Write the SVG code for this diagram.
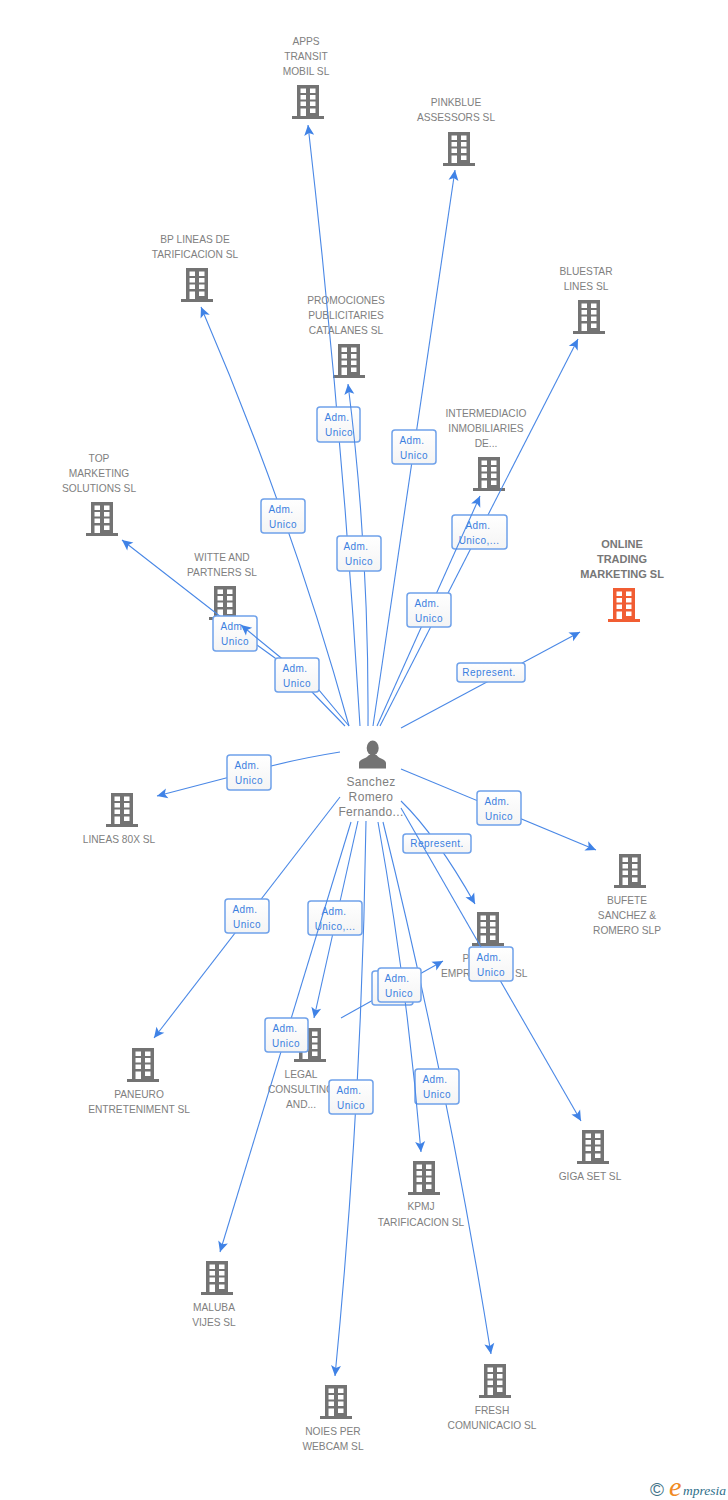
<svg xmlns="http://www.w3.org/2000/svg" width="728" height="1500" viewBox="0 0 728 1500">
<style>
.n{font:10.2px "Liberation Sans",Arial,sans-serif;fill:#808080;text-anchor:middle}
.t{font:bold 11px "Liberation Sans",Arial,sans-serif;fill:#777;text-anchor:middle}
.p{font:12px "Liberation Sans",Arial,sans-serif;fill:#808080;text-anchor:middle;letter-spacing:.35px}
.e{fill:none;stroke:#4a88e6;stroke-width:1.1;marker-end:url(#a)}
.b{fill:url(#g);stroke:#6fa1ea;stroke-width:1.5}
.l{font:10px "Liberation Sans",Arial,sans-serif;fill:#3b7fe0;text-anchor:middle;letter-spacing:.45px}
</style>
<defs>
<linearGradient id="g" x1="0" y1="0" x2="0" y2="1"><stop offset="0" stop-color="#fff"/><stop offset="1" stop-color="#f4f4f4"/></linearGradient>
<marker id="a" markerUnits="userSpaceOnUse" markerWidth="14" markerHeight="14" viewBox="-12 -7 14 14" refX="0" refY="0" orient="auto"><path d="M0,0L-10.5,-5L-8,0L-10.5,5Z" fill="#3f82e6"/></marker>
<path id="bd" fill-rule="evenodd" d="M-11,0H11V31H16V34H-16V31H-11ZM-7.5,3.5V8H-2V3.5ZM2,3.5V8H7.5V3.5ZM-7.5,10V14.5H-2V10ZM2,10V14.5H7.5V10ZM-7.5,16.5V21H-2V16.5ZM2,16.5V21H7.5V16.5ZM-7.5,23.5V31H-2V23.5ZM2,23.5V28H7.5V23.5Z"/>
</defs>
<rect width="728" height="1500" fill="#fff"/>
<g id="nodes" fill="#737373">
<g id="n-apps"><use href="#bd" x="308" y="85"/><text class="n"><tspan x="306" y="45">APPS</tspan><tspan x="306" y="60">TRANSIT</tspan><tspan x="306" y="75">MOBIL SL</tspan></text></g>
<g id="n-pinkblue"><use href="#bd" x="459" y="132"/><text class="n"><tspan x="456" y="106">PINKBLUE</tspan><tspan x="456" y="121">ASSESSORS SL</tspan></text></g>
<g id="n-bp"><use href="#bd" x="197" y="268"/><text class="n"><tspan x="195" y="243">BP LINEAS DE</tspan><tspan x="195" y="258">TARIFICACION SL</tspan></text></g>
<g id="n-promociones"><use href="#bd" x="349" y="344"/><text class="n"><tspan x="346" y="304">PROMOCIONES</tspan><tspan x="346" y="319">PUBLICITARIES</tspan><tspan x="346" y="334">CATALANES SL</tspan></text></g>
<g id="n-bluestar"><use href="#bd" x="589" y="300"/><text class="n"><tspan x="586" y="275">BLUESTAR</tspan><tspan x="586" y="290">LINES SL</tspan></text></g>
<g id="n-intermediacio"><use href="#bd" x="489" y="457"/><text class="n"><tspan x="486" y="417">INTERMEDIACIO</tspan><tspan x="486" y="432">INMOBILIARIES</tspan><tspan x="486" y="447">DE...</tspan></text></g>
<g id="n-top"><use href="#bd" x="102" y="502"/><text class="n"><tspan x="99" y="462">TOP</tspan><tspan x="99" y="477">MARKETING</tspan><tspan x="99" y="492">SOLUTIONS SL</tspan></text></g>
<g id="n-witte"><use href="#bd" x="225" y="586"/><text class="n"><tspan x="222" y="561">WITTE AND</tspan><tspan x="222" y="576">PARTNERS SL</tspan></text></g>
<g id="n-online"><use href="#bd" x="624" y="588" fill="#f15d33"/><text class="t"><tspan x="622" y="548">ONLINE</tspan><tspan x="622" y="563">TRADING</tspan><tspan x="622" y="578">MARKETING SL</tspan></text></g>
<g id="n-lineas"><use href="#bd" x="122" y="793"/><text class="n" x="119" y="843">LINEAS 80X SL</text></g>
<g id="n-bufete"><use href="#bd" x="630" y="854"/><text class="n"><tspan x="627" y="904">BUFETE</tspan><tspan x="627" y="919">SANCHEZ &amp;</tspan><tspan x="627" y="934">ROMERO SLP</tspan></text></g>
<g id="n-paneuro"><use href="#bd" x="143" y="1048"/><text class="n"><tspan x="139" y="1098">PANEURO</tspan><tspan x="139" y="1113">ENTRETENIMENT SL</tspan></text></g>
<g id="n-giga"><use href="#bd" x="593" y="1130"/><text class="n" x="590" y="1180">GIGA SET SL</text></g>
<g id="n-kpmj"><use href="#bd" x="424" y="1161"/><text class="n"><tspan x="421" y="1210">KPMJ</tspan><tspan x="421" y="1226">TARIFICACION SL</tspan></text></g>
<g id="n-maluba"><use href="#bd" x="217" y="1261"/><text class="n"><tspan x="214" y="1311">MALUBA</tspan><tspan x="214" y="1326">VIJES SL</tspan></text></g>
<g id="n-noies"><use href="#bd" x="336" y="1385"/><text class="n"><tspan x="333" y="1435">NOIES PER</tspan><tspan x="333" y="1450">WEBCAM SL</tspan></text></g>
<g id="n-fresh"><use href="#bd" x="495" y="1364"/><text class="n"><tspan x="492" y="1414">FRESH</tspan><tspan x="492" y="1429">COMUNICACIO SL</tspan></text></g>
<g id="n-legal"><use href="#bd" x="310" y="1028"/><text class="n"><tspan x="301" y="1078">LEGAL</tspan><tspan x="301" y="1093">CONSULTING</tspan><tspan x="301" y="1108">AND...</tspan></text></g>
<g id="n-empr"><use href="#bd" x="488" y="912"/><text class="n" x="466" y="962">P</text><text class="n" style="text-anchor:start" y="977"><tspan x="441">EMPR</tspan><tspan x="515">SL</tspan></text></g>
<g id="n-person"><ellipse cx="372.7" cy="748" rx="6" ry="7.5"/><path d="M359,768.5V763C359,759 366,759 369,755H376.5C379,759 386,759 386,763V768.5Z"/><text class="p"><tspan x="371" y="786">Sanchez</tspan><tspan x="371" y="801">Romero</tspan><tspan x="371" y="816">Fernando...</tspan></text></g>
</g>
<g id="connectors">
<path class="e" d="M360,726Q342,422 308,125"/><rect class="b" x="317" y="407" width="43" height="35" rx="3"/><text class="l"><tspan x="337" y="421">Adm.</tspan><tspan x="339" y="436">Unico</tspan></text>
<path class="e" d="M368,726Q369,550 348,384"/><rect class="b" x="337" y="536" width="44" height="35" rx="3"/><text class="l"><tspan x="356" y="550">Adm.</tspan><tspan x="359" y="565">Unico</tspan></text>
<path class="e" d="M349,726Q291,516 201,307"/><rect class="b" x="261" y="499" width="44" height="34" rx="3"/><text class="l"><tspan x="281" y="513">Adm.</tspan><tspan x="283" y="528">Unico</tspan></text>
<path class="e" d="M373,726L455,170"/><rect class="b" x="392" y="430" width="44" height="34" rx="3"/><text class="l"><tspan x="412" y="444">Adm.</tspan><tspan x="414" y="459">Unico</tspan></text>
<path class="e" d="M380,726L578,339"/><rect class="b" x="452" y="515" width="55" height="34" rx="3"/><text class="l"><tspan x="478" y="529">Adm.</tspan><tspan x="479" y="544">Unico,...</tspan></text>
<path class="e" d="M377,726L480,496"/><rect class="b" x="407" y="593" width="44" height="34" rx="3"/><text class="l"><tspan x="427" y="607">Adm.</tspan><tspan x="429" y="622">Unico</tspan></text>
<path class="e" d="M401,728L580,632"/><rect class="b" x="457" y="663" width="68" height="19" rx="3"/><text class="l" x="489" y="676">Represent.</text>
<path class="e" d="M345,726L312,692L275,658L257,645L122,540"/><rect class="b" x="213" y="616" width="44" height="35" rx="3"/><text class="l"><tspan x="233" y="630">Adm.</tspan><tspan x="235" y="645">Unico</tspan></text>
<path class="e" d="M349,726L318,689L280,657L241,625"/><rect class="b" x="275" y="658" width="44" height="34" rx="3"/><text class="l"><tspan x="295" y="672">Adm.</tspan><tspan x="297" y="687">Unico</tspan></text>
<path class="e" d="M340,752Q290,760 249,772L157,796"/><rect class="b" x="227" y="755" width="44" height="35" rx="3"/><text class="l"><tspan x="247" y="769">Adm.</tspan><tspan x="249" y="784">Unico</tspan></text>
<path class="e" d="M401,769L596,850"/><rect class="b" x="477" y="791" width="44" height="34" rx="3"/><text class="l"><tspan x="497" y="805">Adm.</tspan><tspan x="499" y="820">Unico</tspan></text>
<path class="e" d="M401,801Q436,835 475,904"/><rect class="b" x="403" y="834" width="68" height="19" rx="3"/><text class="l" x="437" y="847">Represent.</text>
<path class="e" d="M340,797L154,1038"/><rect class="b" x="225" y="899" width="44" height="34" rx="3"/><text class="l"><tspan x="245" y="913">Adm.</tspan><tspan x="247" y="928">Unico</tspan></text>
<path class="e" d="M358,821L314,1018"/><rect class="b" x="308" y="901" width="54" height="34" rx="3"/><text class="l"><tspan x="334" y="915">Adm.</tspan><tspan x="335" y="930">Unico,...</tspan></text>
<path class="e" d="M401,808L581,1121"/><rect class="b" x="469" y="947" width="44" height="34" rx="3"/><text class="l"><tspan x="489" y="961">Adm.</tspan><tspan x="491" y="976">Unico</tspan></text>
<path class="e" d="M351,822L220,1252"/><rect class="b" x="265" y="1018" width="43" height="34" rx="3"/><text class="l"><tspan x="285" y="1032">Adm.</tspan><tspan x="286" y="1047">Unico</tspan></text>
<path class="e" d="M366,821Q362,1100 335,1376"/><rect class="b" x="329" y="1080" width="44" height="34" rx="3"/><text class="l"><tspan x="349" y="1094">Adm.</tspan><tspan x="351" y="1109">Unico</tspan></text>
<path class="e" d="M383,822Q447,1080 491,1354"/><rect class="b" x="415" y="1069" width="44" height="35" rx="3"/><text class="l"><tspan x="435" y="1083">Adm.</tspan><tspan x="437" y="1098">Unico</tspan></text>
<path class="e" d="M341,1018L443,961"/><rect class="b" x="372" y="971" width="41" height="34" rx="3"/>
<path class="e" d="M378,822Q407,985 421,1152"/><rect class="b" x="378" y="968" width="43" height="34" rx="3"/><text class="l"><tspan x="397" y="982">Adm.</tspan><tspan x="399" y="997">Unico</tspan></text>
</g>
<g id="logo">
<text x="650" y="1496" style="font:19px 'Liberation Sans',sans-serif;fill:#3f7388">©</text>
<text x="669" y="1496" style="font:italic 28px 'Liberation Serif',serif;fill:#f08a24">e</text>
<text x="683" y="1495" style="font:italic 13.5px 'Liberation Serif',serif;fill:#2f6f8a">mpresia</text>
</g>
</svg>
